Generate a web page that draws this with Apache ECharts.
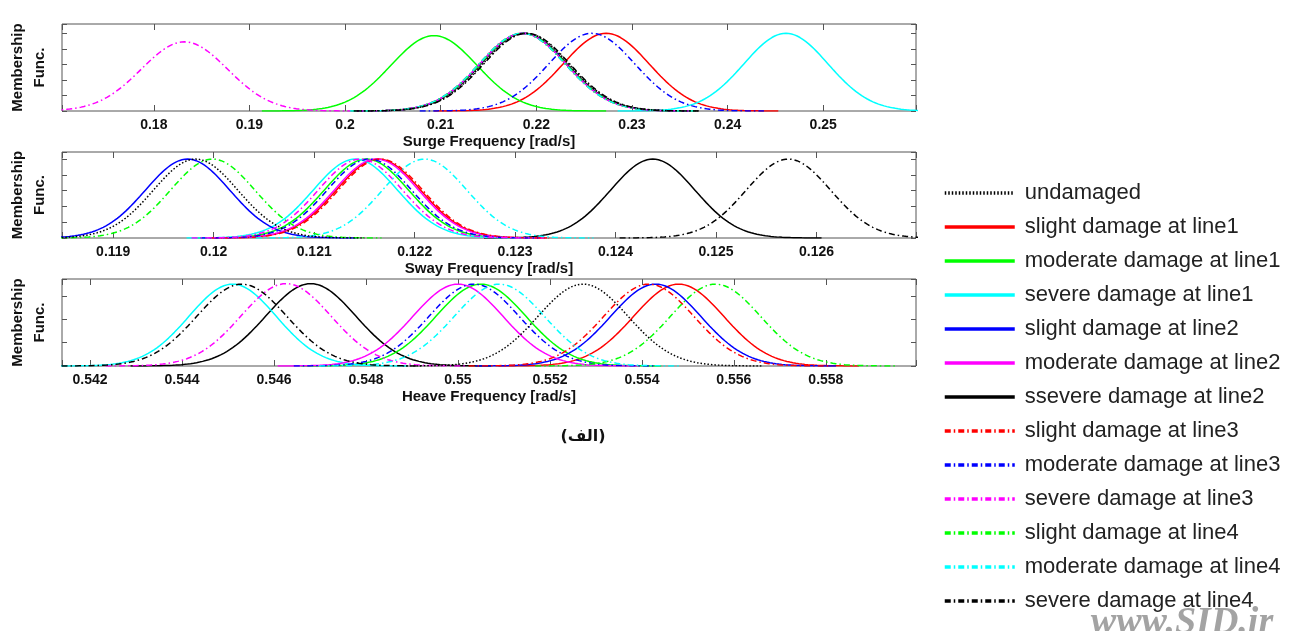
<!DOCTYPE html>
<html>
<head>
<meta charset="utf-8">
<script src="https://cdn.jsdelivr.net/npm/echarts@6/dist/echarts.min.js"></script>
<style>
  html, body { margin: 0; padding: 0; background: #fff; }
  #chart { width: 1309px; height: 631px; }
</style>
</head>
<body>
<div id="chart"></div>
<script>
// legend entries (same order in every panel)
const seriesNames = [
  'undamaged',
  'slight damage at line1', 'moderate damage at line1', 'severe damage at line1',
  'slight damage at line2', 'moderate damage at line2', 'ssevere damage at line2',
  'slight damage at line3', 'moderate damage at line3', 'severe damage at line3',
  'slight damage at line4', 'moderate damage at line4', 'severe damage at line4'
]

// membership function centres [rad/s], peak heights and widths (sigma)
const surgeCenters = [0.2189, 0.2273, 0.2093, 0.2461, 0.2186, 0.2186, 0.2187, 0.2185, 0.2258, 0.1832, 0.2186, 0.2185, 0.2190]
const surgePeaks   = [1, 1, 0.97, 1, 1, 1, 1, 1, 1, 0.89, 1, 1, 1]
const surgeSigmas  = [0.0045, 0.0045, 0.0045, 0.0044, 0.0045, 0.0045, 0.0045, 0.0045, 0.0045, 0.0045, 0.0045, 0.0045, 0.0045]

const swayCenters = [0.11982, 0.12164, 0.12152, 0.12141, 0.11974, 0.12162, 0.12437, 0.12166, 0.12155, 0.12146, 0.11999, 0.12210, 0.12572]
const swayPeaks   = [1, 1, 1, 1, 1, 1, 1, 1, 1, 1, 1, 1, 1]
const swaySigmas  = [0.00042, 0.00042, 0.00042, 0.00042, 0.00042, 0.00042, 0.00042, 0.00042, 0.00042, 0.00042, 0.00042, 0.00042, 0.00042]

const heaveCenters = [0.55272, 0.5548, 0.5505, 0.5451, 0.5543, 0.5500, 0.5468, 0.55415, 0.55035, 0.54626, 0.5556, 0.5509, 0.5453]
const heavePeaks   = [0.875, 0.875, 0.875, 0.875, 0.875, 0.875, 0.88, 0.875, 0.875, 0.88, 0.875, 0.875, 0.875]
const heaveSigmas  = [0.00098, 0.00098, 0.00098, 0.00095, 0.00098, 0.00098, 0.00098, 0.00098, 0.00098, 0.00098, 0.00098, 0.00098, 0.00098]

// axis ranges and tick steps
const xRanges = [[0.1704, 0.2597], [0.11849, 0.12699], [0.54139, 0.55996]]
const xSteps = [0.01, 0.001, 0.002]
const yMaxes = [1.12, 1.09, 0.93]
const ySteps = [0.2, 0.2, 0.25]
const axisTitles = ['Surge Frequency [rad/s]', 'Sway Frequency [rad/s]', 'Heave Frequency [rad/s]']

const colors = ['#000000', '#ff0000', '#00ff00', '#00ffff', '#0000ff', '#ff00ff', '#000000',
                '#ff0000', '#0000ff', '#ff00ff', '#00ff00', '#00ffff', '#000000']
const DOT = [1.5, 2]
const DASHDOT = [6, 3, 1.5, 3]
const lineTypes = [DOT, 'solid', 'solid', 'solid', 'solid', 'solid', 'solid',
                   DASHDOT, DASHDOT, DASHDOT, DASHDOT, DASHDOT, DASHDOT]
// drawing order: black solid goes underneath, the dotted reference curve on top
const zLevels = [6, 3, 3, 3, 3, 3, 1, 3, 3, 3, 3, 3, 4]

const panels = [
  { centers: surgeCenters, peaks: surgePeaks, sigmas: surgeSigmas },
  { centers: swayCenters, peaks: swayPeaks, sigmas: swaySigmas },
  { centers: heaveCenters, peaks: heavePeaks, sigmas: heaveSigmas }
]

const gridTops = [24, 152, 279]
const gridHeights = [87, 86, 87]
const plotLeft = 62
const plotRight = 916

// gaussian membership function sampled over +-4 sigma
function membership(c, s, h) {
  const pts = []
  const n = 120
  for (let k = 0; k <= n; k++) {
    const x = c - 4 * s + (8 * s * k) / n
    const z = (x - c) / s
    pts.push([x, h * Math.exp(-0.5 * z * z)])
  }
  return pts
}

const tickFont = { fontFamily: 'Liberation Sans', fontWeight: 'bold', fontSize: 14, color: '#111' }

const grids = []
const xAxes = []
const yAxes = []
const series = []

panels.forEach((p, pi) => {
  grids.push({
    left: plotLeft, width: plotRight - plotLeft, top: gridTops[pi], height: gridHeights[pi],
    show: true, borderColor: '#555', borderWidth: 1, backgroundColor: '#fff'
  })
  const step = xSteps[pi]
  const xBase = {
    type: 'value', gridIndex: pi, min: xRanges[pi][0], max: xRanges[pi][1],
    minInterval: step, maxInterval: step, splitNumber: 10,
    axisLine: { show: false, onZero: false },
    axisTick: { show: true, inside: true, length: 6, lineStyle: { color: '#555' } },
    splitLine: { show: false }
  }
  xAxes.push({
    ...xBase, position: 'bottom',
    name: axisTitles[pi], nameLocation: 'middle', nameGap: 23,
    nameTextStyle: { fontFamily: 'Liberation Sans', fontWeight: 'bold', fontSize: 15, color: '#111' },
    axisLabel: {
      ...tickFont, margin: 7,
      formatter: (v) => {
        const k = v / step
        if (Math.abs(k - Math.round(k)) > 1e-6) return ''
        return String(+v.toFixed(4))
      }
    }
  })
  xAxes.push({ ...xBase, position: 'top', axisLabel: { show: false } })
  const yBase = {
    type: 'value', gridIndex: pi, min: 0, max: yMaxes[pi], interval: ySteps[pi],
    axisLine: { show: false, onZero: false },
    axisTick: { show: true, inside: true, length: 5, lineStyle: { color: '#555' } },
    axisLabel: { show: false },
    splitLine: { show: false }
  }
  yAxes.push({ ...yBase, position: 'left' })
  yAxes.push({ ...yBase, position: 'right' })

  seriesNames.forEach((name, i) => {
    series.push({
      name,
      type: 'line',
      xAxisIndex: pi * 2,
      yAxisIndex: pi * 2,
      data: membership(p.centers[i], p.sigmas[i], p.peaks[i]),
      symbol: 'none',
      showSymbol: false,
      z: zLevels[i],
      clip: true,
      silent: true,
      itemStyle: { color: colors[i] },
      lineStyle: { color: colors[i], width: 1.5, type: lineTypes[i] }
    })
  })
})

const chart = echarts.init(document.getElementById('chart'), null, { renderer: 'canvas' })

chart.setOption({
  animation: false,
  backgroundColor: '#fff',
  grid: grids,
  xAxis: xAxes,
  yAxis: yAxes,
  legend: {
    data: seriesNames,
    orient: 'vertical',
    left: 938,
    top: 177,
    height: 450,
    itemWidth: 70,
    itemHeight: 14,
    itemGap: 12,
    selectedMode: false,
    itemStyle: { opacity: 0 },
    lineStyle: { width: 3.5 },
    textStyle: { fontFamily: 'Liberation Sans', fontSize: 22, color: '#222', padding: [0, 0, 0, 5] }
  },
  graphic: [
    ...gridTops.map((t, i) => ({
      type: 'text',
      x: 29,
      y: t + gridHeights[i] / 2,
      rotation: Math.PI / 2,
      style: {
        text: 'Membership\nFunc.',
        font: 'bold 15px "Liberation Sans"',
        fill: '#111',
        align: 'center',
        verticalAlign: 'middle',
        lineHeight: 22
      }
    })),
    {
      type: 'text',
      x: 583,
      y: 437,
      style: {
        text: '(الف)',
        font: 'bold 16px "DejaVu Sans"',
        fill: '#111',
        align: 'center',
        verticalAlign: 'middle'
      }
    },
    {
      type: 'text',
      x: 1182,
      y: 604,
      z: -1,
      style: {
        text: 'www.SID.ir',
        font: 'italic bold 38px "Liberation Serif"',
        fill: '#a3a3a3',
        align: 'center',
        verticalAlign: 'top'
      }
    }
  ],
  series
})
</script>
</body>
</html>
